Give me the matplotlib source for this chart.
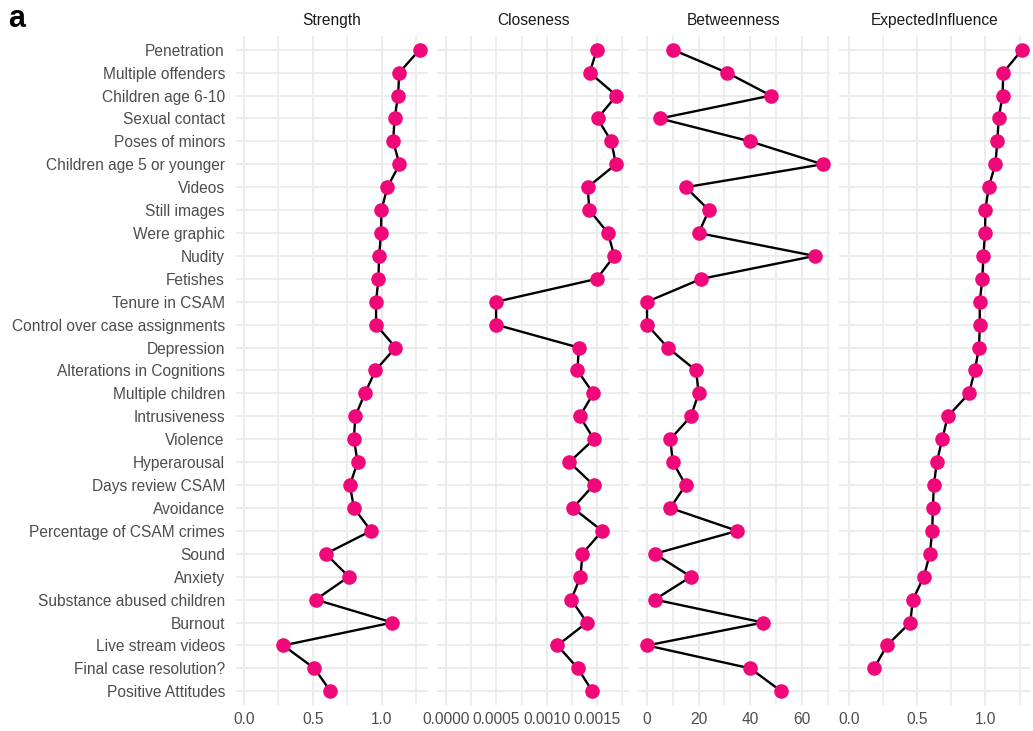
"""
Centrality plot (Strength, Closeness, Betweenness, ExpectedInfluence) per node.
"""

import matplotlib.pyplot as plt
import numpy as np
from matplotlib.ticker import MultipleLocator

plt.rcParams["font.family"] = ["Liberation Sans", "DejaVu Sans"]

nodes = [
    "Penetration", "Multiple offenders", "Children age 6-10", "Sexual contact",
    "Poses of minors", "Children age 5 or younger", "Videos", "Still images",
    "Were graphic", "Nudity", "Fetishes", "Tenure in CSAM",
    "Control over case assignments", "Depression", "Alterations in Cognitions",
    "Multiple children", "Intrusiveness", "Violence", "Hyperarousal",
    "Days review CSAM", "Avoidance", "Percentage of CSAM crimes", "Sound",
    "Anxiety", "Substance abused children", "Burnout", "Live stream videos",
    "Final case resolution?", "Positive Attitudes",
]

strength = [
    1.275, 1.127, 1.119, 1.093, 1.083, 1.129, 1.041, 0.998, 0.995, 0.981,
    0.976, 0.959, 0.959, 1.100, 0.954, 0.878, 0.808, 0.798, 0.825, 0.769,
    0.798, 0.922, 0.594, 0.761, 0.521, 1.078, 0.285, 0.511, 0.628,
]

closeness = [
    0.001497, 0.001426, 0.001692, 0.001504, 0.001641, 0.001686, 0.001406,
    0.001423, 0.001608, 0.001670, 0.001497, 0.000498, 0.000498, 0.001318,
    0.001305, 0.001462, 0.001328, 0.001468, 0.001224, 0.001465, 0.001260,
    0.001550, 0.001354, 0.001335, 0.001243, 0.001399, 0.001106, 0.001309,
    0.001452,
]

betweenness = [
    10, 31, 48, 5, 40, 68, 15, 24, 20, 65, 21, 0, 0, 8, 19, 20, 17, 9, 10,
    15, 9, 35, 3, 17, 3, 45, 0, 40, 52,
]

expected_influence = [
    1.268, 1.131, 1.126, 1.097, 1.088, 1.073, 1.024, 1.000, 0.998, 0.985,
    0.978, 0.959, 0.959, 0.954, 0.922, 0.881, 0.725, 0.684, 0.645, 0.623,
    0.616, 0.611, 0.594, 0.550, 0.470, 0.450, 0.280, 0.185, np.nan,
]

panels = [
    ("Strength", strength, (-0.058, 1.336), 0.5, "{:.1f}"),
    ("Closeness", closeness, (-0.000088, 0.001816), 0.0005, "{:.4f}"),
    ("Betweenness", betweenness, (-3.5, 70.9), 20, "{:.0f}"),
    ("ExpectedInfluence", expected_influence, (-0.071, 1.334), 0.5, "{:.1f}"),
]

PINK = "#F0087A"
TEXT = "#4D4D4D"
GRID = "#EBEBEB"

fig = plt.figure(figsize=(10.33, 7.31), dpi=100)
ypos = np.arange(len(nodes))

lefts = [236, 437, 638, 839]
for i, (title, values, xlim, step, fmt) in enumerate(panels):
    ax = fig.add_axes([lefts[i] / 1033, 1 - 705 / 731, 192 / 1033, 669 / 731])
    vals = np.array(values, dtype=float)
    ok = ~np.isnan(vals)
    ax.plot(vals[ok], ypos[ok], color="black", linewidth=1.7, zorder=2)
    ax.plot(vals[ok], ypos[ok], "o", color=PINK, markersize=10.5,
            markeredgewidth=0, zorder=3)

    ax.set_xlim(*xlim)
    ax.set_ylim(len(nodes) - 0.4, -0.6)
    ax.xaxis.set_minor_locator(MultipleLocator(step / 2))
    ticks = [t for t in np.arange(0, xlim[1], step) if t >= xlim[0]]
    ax.set_xticks(ticks)
    ax.set_xticklabels([fmt.format(t) for t in ticks])
    ax.set_yticks(ypos)
    if i == 0:
        ax.set_yticklabels(nodes)
    else:
        ax.set_yticklabels([])

    ax.grid(True, which="major", color=GRID, linewidth=1.3, zorder=0)
    ax.grid(True, which="minor", axis="x", color=GRID, linewidth=1.2, zorder=0)
    ax.set_axisbelow(True)
    for side in ax.spines.values():
        side.set_visible(False)
    ax.tick_params(which="both", length=0, labelsize=11.2, labelcolor=TEXT)
    ax.tick_params(axis="y", pad=8)
    ax.tick_params(axis="x", pad=5)
    ax.set_title(title, fontsize=11.2, color="#1A1A1A", pad=8)

fig.text(0.008, 0.995, "a", fontsize=22, fontweight="bold", va="top")

fig.savefig("out.png", dpi=100)
plt.close(fig)
